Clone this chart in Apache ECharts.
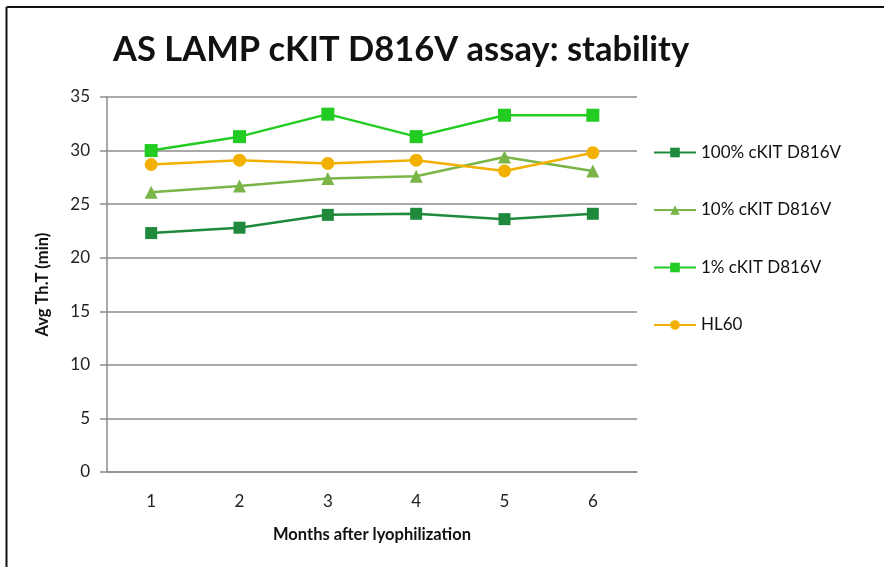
<!DOCTYPE html>
<html>
<head>
<meta charset="utf-8">
<script src="https://cdn.jsdelivr.net/npm/echarts@6/dist/echarts.min.js"></script>
<style>
  html, body { margin: 0; padding: 0; background: #fff; }
  #chart { width: 884px; height: 567px; }
</style>
</head>
<body>
<div id="chart"></div>
<script>
// Months after lyophilization
const months = ['1', '2', '3', '4', '5', '6'];
// Average threshold time (min) per sample
const cKit100 = [22.3, 22.8, 24.0, 24.1, 23.6, 24.1];
const cKit10  = [26.1, 26.7, 27.4, 27.6, 29.4, 28.1];
const cKit1   = [30.0, 31.3, 33.4, 31.3, 33.3, 33.3];
const hl60    = [28.7, 29.1, 28.8, 29.1, 28.1, 29.8];
const yTicks = { min: 0, max: 35, step: 5 };

const font = 'Lato, "Open Sans", sans-serif';

function lineSeries(name, data, color, symbol, size) {
  return {
    name, type: 'line', data,
    symbol, symbolSize: size,
    lineStyle: { color, width: 2.5 },
    itemStyle: { color, borderColor: color, borderWidth: 0 },
    emphasis: { disabled: true },
    z: 3
  };
}

const chart = echarts.init(document.getElementById('chart'), null, { renderer: 'canvas' });
chart.setOption({
  animation: false,
  backgroundColor: '#fff',
  title: {
    text: 'AS LAMP cKIT D816V assay: stability',
    left: 108, top: 27,
    textStyle: { fontFamily: font, fontWeight: 'bold', fontSize: 34.5, color: '#111' }
  },
  grid: { left: 107, top: 97, width: 530, height: 375, containLabel: false },
  xAxis: {
    type: 'category', data: months, boundaryGap: true,
    name: 'Months after lyophilization', nameLocation: 'middle', nameGap: 54,
    nameTextStyle: { fontFamily: font, fontWeight: 'bold', fontSize: 16.5, color: '#111' },
    axisLine: { lineStyle: { color: '#8c8c8c', width: 1.5 } },
    axisTick: { show: false },
    axisLabel: { fontFamily: font, fontSize: 17, color: '#222', margin: 21 },
    splitLine: { show: false }
  },
  yAxis: {
    type: 'value', min: yTicks.min, max: yTicks.max, interval: yTicks.step,
    name: 'Avg Th.T (min)', nameLocation: 'middle', nameGap: 56, nameRotate: 90,
    nameTextStyle: { fontFamily: font, fontWeight: 'bold', fontSize: 16.5, color: '#111' },
    axisLine: { show: true, lineStyle: { color: '#8c8c8c', width: 1.5 } },
    axisTick: { show: true, inside: false, length: 7, lineStyle: { color: '#8c8c8c', width: 1.5 } },
    axisLabel: { fontFamily: font, fontSize: 17, color: '#222', margin: 17 },
    splitLine: { show: true, lineStyle: { color: '#8c8c8c', width: 1.5 } }
  },
  legend: {
    orient: 'vertical', left: 648, top: 139,
    itemWidth: 42, itemHeight: 12, itemGap: 40.5,
    textStyle: { fontFamily: font, fontSize: 17, color: '#111' },
    data: ['100% cKIT D816V', '10% cKIT D816V', '1% cKIT D816V', 'HL60']
  },
  series: [
    lineSeries('100% cKIT D816V', cKit100, '#1f8a3b', 'rect', 12),
    lineSeries('10% cKIT D816V', cKit10, '#7ab547', 'triangle', 13),
    lineSeries('1% cKIT D816V', cKit1, '#22cc22', 'rect', 13),
    lineSeries('HL60', hl60, '#f2b000', 'circle', 13)
  ],
  graphic: [
    // frame around the chart on the top and left edges
    { type: 'line', shape: { x1: 6.5, y1: 7, x2: 884, y2: 7 }, style: { stroke: '#111', lineWidth: 2 } },
    { type: 'line', shape: { x1: 6.5, y1: 7, x2: 6.5, y2: 567 }, style: { stroke: '#111', lineWidth: 2 } }
  ]
});
</script>
</body>
</html>
